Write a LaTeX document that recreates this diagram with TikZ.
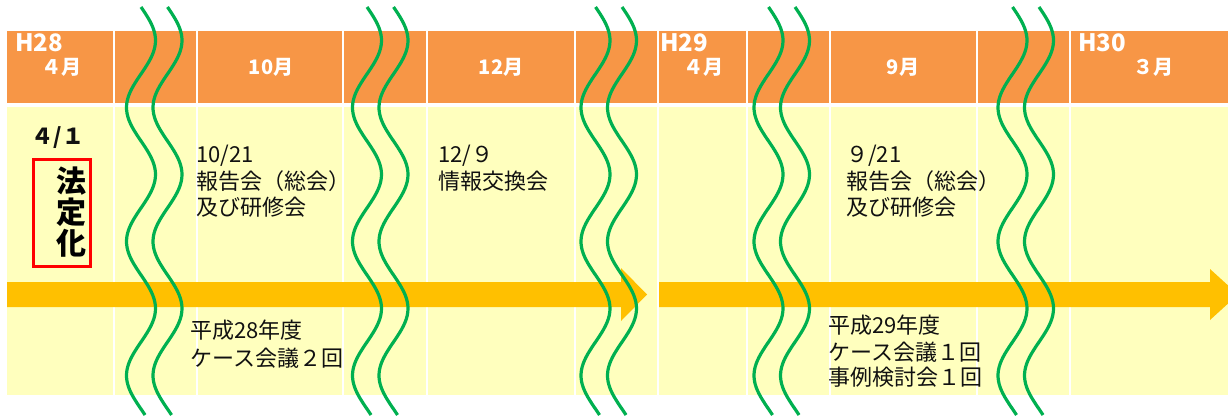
\documentclass[tikz,border=0pt]{standalone}
\usepackage{fontspec}
\setmainfont{Noto Sans CJK JP}
\definecolor{hdr}{HTML}{F79646}
\definecolor{bdy}{HTML}{FFFFBE}
\definecolor{arr}{HTML}{FFC000}
\definecolor{wav}{HTML}{00B050}
\definecolor{txt}{HTML}{111111}
\definecolor{boxred}{HTML}{FF0000}
\begin{document}
\begin{tikzpicture}[x=1pt,y=-1pt,
  hy/.style={text=white, font=\fontsize{24}{24}\selectfont\bfseries, inner sep=0pt, anchor=base west},
  hm/.style={text=white, font=\fontsize{20}{20}\selectfont\bfseries, inner sep=0pt, anchor=base},
  bt/.style={text=txt, font=\fontsize{22}{22}\selectfont, inner sep=0pt, anchor=base west},
  sepline/.style={draw=white, line width=2pt},
  wave/.style={draw=wav, line width=3.2pt},
  bigarrow/.style={fill=arr, draw=none}]
\useasboundingbox (0,0) rectangle (1228,417);
\clip (0,0) rectangle (1228,417);
% table
\fill[hdr] (7,31) rectangle (1228,103.5);
\fill[bdy] (7,107) rectangle (1228,395);
\foreach \cx in {113.5,197,343,427,575,658,747,830,977,1070}
  \draw[sepline] (\cx,31) -- (\cx,395);
% header texts
\node[hy] (h28) at (15,52) {H28};
\node[hm] (m4a) at (61,74.5) {４月};
\node[hm] (m10) at (271,75) {10月};
\node[hm] (m12) at (501,75) {12月};
\node[hy] (h29) at (660,52) {H29};
\node[hm] (m4b) at (703,74.5) {４月};
\node[hm] (m9) at (903,75) {9月};
\node[hy] (h30) at (1078,52) {H30};
\node[hm] (m3) at (1153,74.5) {３月};
% arrows
\path[bigarrow] (7,282) -- (621,282) -- (621,268) -- (647,294.5) -- (621,321) -- (621,307) -- (7,307) -- cycle;
\path[bigarrow] (659,282) -- (1210,282) -- (1210,269) -- (1238,294.5) -- (1210,320) -- (1210,307) -- (659,307) -- cycle;
% 4/1 and box
\node[text=txt, font=\fontsize{22}{22}\selectfont\bfseries, inner sep=0pt, anchor=base] (d41) at (58,145) {４/１};
\node[draw=boxred, line width=2.6pt, minimum width=57pt, minimum height=107pt, inner sep=0pt] (box) at (62,213) {};
\node[text=black, font=\fontsize{30}{31}\selectfont\bfseries, inner sep=0pt, align=center] (hou) at (71.5,212) {法\\定\\化};
% body texts
\node[bt] (a1) at (196,162) {10/21};
\node[bt] (a2) at (196,189.5) {報告会（総会）};
\node[bt] (a3) at (196,215.5) {及び研修会};
\node[bt] (b1) at (438,162) {12/９};
\node[bt] (b2) at (438,189.5) {情報交換会};
\node[bt] (c1) at (846,162) {９/21};
\node[bt] (c2) at (846,189.5) {報告会（総会）};
\node[bt] (c3) at (846,215.5) {及び研修会};
\node[bt] (d1) at (190,338.5) {平成28年度};
\node[bt] (d2) at (190,366) {ケース会議２回};
\node[bt] (e1) at (828,333.5) {平成29年度};
\node[bt] (e2) at (828,360) {ケース会議１回};
\node[bt] (e3) at (828,385.5) {事例検討会１回};
% waves
\foreach \c in {141,167.5,367,393.5,595.5,622,768.5,795,1012.5,1039}
  \draw[wave] plot[domain=7:415, samples=120, smooth] ({\c+14.5*sin(2.6866*(\x-7))},\x);
\end{tikzpicture}
\end{document}
